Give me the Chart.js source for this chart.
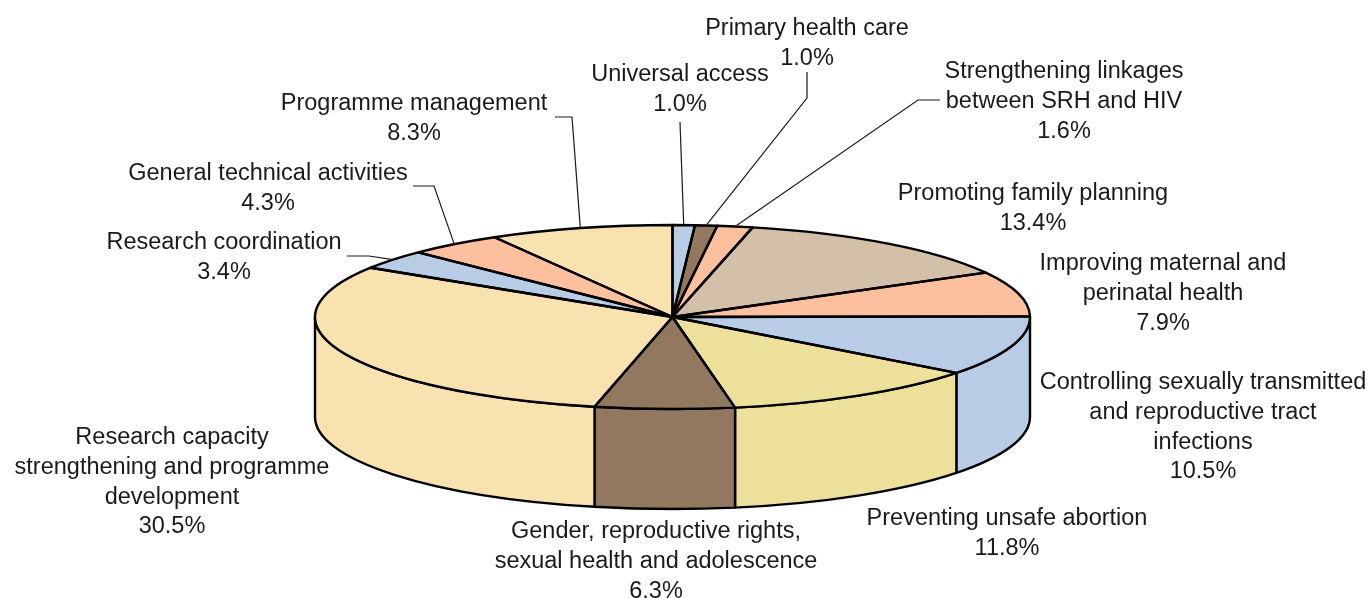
<!DOCTYPE html>
<html>
<head>
<meta charset="utf-8">
<title>Pie</title>
<script src="https://cdn.jsdelivr.net/npm/chart.js@4"></script>
<style>
    html, body { margin: 0; padding: 0; background: #fff; overflow: hidden; }
    canvas { display: block; }
</style>
</head>
<body>
<canvas id="pieChart" width="1371" height="598"></canvas>
<script>
const categories = [
    ['Universal access'],
    ['Primary health care'],
    ['Strengthening linkages', 'between SRH and HIV'],
    ['Promoting family planning'],
    ['Improving maternal and', 'perinatal health'],
    ['Controlling sexually transmitted', 'and reproductive tract', 'infections'],
    ['Preventing unsafe abortion'],
    ['Gender, reproductive rights,', 'sexual health and adolescence'],
    ['Research capacity', 'strengthening and programme', 'development'],
    ['Research coordination'],
    ['General technical activities'],
    ['Programme management']
];
const shares = [1.0, 1.0, 1.6, 13.4, 7.9, 10.5, 11.8, 6.3, 30.5, 3.4, 4.3, 8.3];
const colours = [
    '#B8CDE5', '#937860', '#FCC09E', '#D4BFA9', '#FCC09E', '#B8CDE5',
    '#ECE09A', '#937860', '#F8E2B0', '#B8CDE5', '#FCC09E', '#F8E2B0'
];

// where each label sits: centre x, middle y of first line
const labelPos = [
    [680, 75], [807, 29], [1064, 72], [1033, 194], [1163, 264], [1203, 383],
    [1007, 519], [656, 532], [172, 438], [224, 243], [268, 174], [414, 104]
];
// leader lines, from the label to the rim of the slice
const leaders = {
    0: [[680, 122]],
    1: [[807, 72], [807, 98]],
    2: [[940, 100], [918, 100]],
    9: [[347, 256], [369, 256]],
    10: [[413, 186], [434, 186]],
    11: [[555, 117], [572, 117]]
};

const RX = 357.5, RY = 92, DEPTH = 100;
const LINE_H = 29.6;
const INK = '#1a1a1a';

// the library draws a round pie, this squashes it to a flat ellipse with a wall under it
const tiltPlugin = {
    id: 'tilt',
    beforeDatasetsDraw(chart) {
        const ctx = chart.ctx;
        const arcs = chart.getDatasetMeta(0).data;
        const cx = arcs[0].x, cy = arcs[0].y;

        ctx.save();
        ctx.lineWidth = 2.4;
        ctx.strokeStyle = '#000';
        ctx.lineJoin = 'round';
        arcs.forEach((arc, i) => {
            const a = Math.max(arc.startAngle, 0);
            const b = Math.min(arc.endAngle, Math.PI);
            if (b <= a) return;
            ctx.beginPath();
            ctx.ellipse(cx, cy, RX, RY, 0, a, b);
            ctx.ellipse(cx, cy + DEPTH, RX, RY, 0, b, a, true);
            ctx.closePath();
            ctx.fillStyle = colours[i];
            ctx.fill();
            ctx.stroke();
        });
        ctx.restore();

        ctx.save();
        ctx.translate(cx, cy);
        ctx.scale(RX / arcs[0].outerRadius, RY / arcs[0].outerRadius);
        ctx.translate(-cx, -cy);
    },
    afterDatasetsDraw(chart) {
        const ctx = chart.ctx;
        ctx.restore();

        const arcs = chart.getDatasetMeta(0).data;
        const cx = arcs[0].x, cy = arcs[0].y;

        ctx.save();
        ctx.lineWidth = 2.4;
        ctx.strokeStyle = '#000';
        ctx.lineJoin = 'round';
        arcs.forEach(arc => {
            ctx.beginPath();
            ctx.moveTo(cx, cy);
            ctx.ellipse(cx, cy, RX, RY, 0, arc.startAngle, arc.endAngle);
            ctx.closePath();
            ctx.stroke();
        });
        ctx.restore();
    },
    afterDraw(chart) {
        const ctx = chart.ctx;
        const arcs = chart.getDatasetMeta(0).data;
        const cx = arcs[0].x, cy = arcs[0].y;

        ctx.save();
        ctx.strokeStyle = INK;
        ctx.lineWidth = 1.2;
        Object.keys(leaders).forEach(k => {
            const arc = arcs[k];
            const mid = (arc.startAngle + arc.endAngle) / 2;
            const pts = leaders[k];
            ctx.beginPath();
            ctx.moveTo(pts[0][0], pts[0][1]);
            pts.slice(1).forEach(p => ctx.lineTo(p[0], p[1]));
            ctx.lineTo(cx + RX * Math.cos(mid), cy + RY * Math.sin(mid));
            ctx.stroke();
        });

        ctx.fillStyle = INK;
        ctx.font = '23.5px "Liberation Sans", Arial, sans-serif';
        ctx.textAlign = 'center';
        ctx.textBaseline = 'middle';
        categories.forEach((lines, i) => {
            const all = lines.concat(shares[i].toFixed(1) + '%');
            all.forEach((t, n) => {
                ctx.fillText(t, labelPos[i][0], labelPos[i][1] + n * LINE_H);
            });
        });
        ctx.restore();
    }
};

const ctx = document.getElementById('pieChart').getContext('2d');
const pieChart = new Chart(ctx, {
    type: 'pie',
    data: {
        labels: categories,
        datasets: [{
            data: shares,
            backgroundColor: colours,
            borderWidth: 0,
            clip: false
        }]
    },
    options: {
        responsive: false,
        animation: false,
        events: [],
        layout: {
            padding: { left: 0, right: 26, top: 36, bottom: 0 }
        },
        plugins: {
            legend: { display: false },
            tooltip: { enabled: false }
        }
    },
    plugins: [tiltPlugin]
});
</script>
</body>
</html>
